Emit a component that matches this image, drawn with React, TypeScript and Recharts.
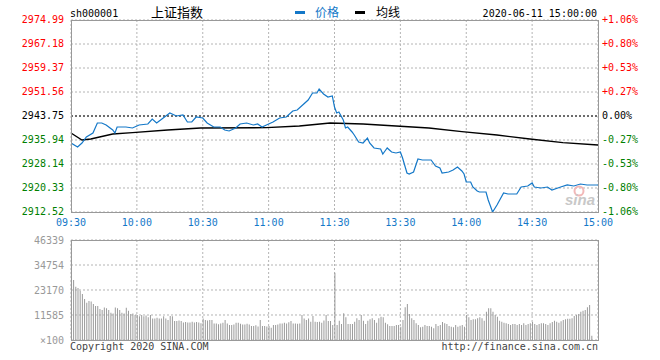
import { Bar, BarChart, CartesianGrid, Line, LineChart, ReferenceLine, XAxis, YAxis } from 'recharts';

const MONO = '"DejaVu Sans Mono", monospace';
const BLUE = '#1478c8';
const basePrice = 2943.75;

const priceTicks = [2912.52, 2920.33, 2928.14, 2935.94, 2943.75, 2951.56, 2959.37, 2967.18, 2974.99];
const pctLabels = ['-1.06%', '-0.80%', '-0.53%', '-0.27%', '0.00%', '+0.27%', '+0.53%', '+0.80%', '+1.06%'];
const timeTicks = [0, 30, 60, 90, 120, 150, 180, 210, 240];
const timeLabels = ['09:30', '10:00', '10:30', '11:00', '11:30', '13:30', '14:00', '14:30', '15:00'];
const volTicks = [0, 11585, 23170, 34754, 46339];
const volLabels = ['×100', '11585', '23170', '34754', '46339'];

// minutes since 09:30 (lunch break removed)
const priceMin = [
  0, 3, 5, 7, 10, 12, 14, 16, 19, 20, 21, 25, 28, 31, 35, 37, 39, 42, 45, 48,
  51, 53, 55, 57, 60, 62, 65, 68, 70, 72, 75, 77, 80, 83, 85, 87, 89, 92, 95, 98,
  101, 103, 106, 108, 110, 112, 113, 115, 117, 119, 120, 121, 122, 124, 125, 126, 128, 129, 131, 133,
  135, 136, 138, 141, 142, 143, 144, 146, 148, 150, 151, 153, 154, 156, 158, 160, 164, 166, 168, 169,
  172, 174, 176, 178, 179, 180, 182, 183, 185, 186, 189, 190, 192, 194, 197, 199, 203, 205, 208, 210,
  211, 214, 217, 219, 223, 226, 229, 232, 235, 240,
];
const priceVal = [
  2934.97, 2933.67, 2934.97, 2936.92, 2938.22, 2941.48, 2941.48, 2940.83, 2939.2, 2938.22,
  2940.18, 2940.18, 2939.85, 2940.83, 2941.15, 2942.78, 2941.48, 2943.1, 2944.73, 2943.76,
  2944.08, 2941.8, 2941.8, 2943.43, 2943.1, 2941.48, 2940.18, 2940.18, 2939.2, 2938.88,
  2939.85, 2941.15, 2941.48, 2940.83, 2941.15, 2940.18, 2940.83, 2941.8, 2943.1, 2943.43,
  2945.38, 2945.71, 2947.66, 2948.96, 2951.24, 2951.24, 2952.54, 2950.91, 2949.94, 2950.26,
  2946.68, 2944.73, 2945.06, 2942.45, 2939.85, 2940.18, 2938.55, 2937.57, 2935.3, 2934.97,
  2936.6, 2934.97, 2933.34, 2933.02, 2931.39, 2932.37, 2933.34, 2932.04, 2931.72, 2932.04,
  2930.09, 2925.21, 2924.88, 2925.54, 2929.76, 2929.44, 2929.44, 2927.49, 2926.84, 2925.21,
  2925.54, 2926.19, 2927.16, 2925.86, 2924.88, 2922.28, 2922.28, 2920.65, 2919.35, 2919.03,
  2919.03, 2916.43, 2912.52, 2914.8, 2918.7, 2918.38, 2918.38, 2920.65, 2920.98, 2921.96,
  2920.65, 2920.33, 2920.65, 2919.68, 2920.65, 2921.31, 2920.98, 2921.63, 2921.31, 2921.31,
];
const avgMin = [0, 5, 9, 13, 19, 28, 44, 59, 89, 104, 118, 133, 148, 163, 178, 194, 209, 224, 240];
const avgVal = [
  2938.22, 2935.95, 2936.27, 2936.92, 2937.9, 2938.32, 2939.2, 2939.85, 2939.95, 2940.5,
  2941.48, 2941.15, 2940.5, 2939.85, 2938.65, 2937.57, 2936.27, 2935.07, 2934.32,
];
// volume per minute, in units of 100
const volume = [
  46000, 27800, 24700, 24100, 22800, 21300, 19000, 17300, 18100, 17800,
  16700, 15700, 15700, 14400, 13900, 15100, 14700, 13900, 12600, 12300,
  15100, 14700, 13900, 12600, 12300, 15000, 13500, 12000, 12300, 11600,
  11600, 11000, 11600, 11000, 11300, 10500, 11600, 10000, 10000, 10300,
  10000, 10000, 11000, 10000, 9300, 11100, 11000, 8800, 8800, 9000,
  8800, 8100, 8300, 8100, 8100, 8500, 8100, 8300, 8100, 7800,
  10000, 9300, 9000, 9300, 9300, 7700, 7700, 7300, 7700, 8000,
  9300, 7700, 6900, 6900, 7200, 8000, 8000, 7500, 7200, 7200,
  7500, 7200, 6500, 6500, 6800, 6200, 9300, 6500, 6500, 6200,
  6500, 5700, 6900, 6900, 7200, 7700, 7700, 8000, 7700, 8200,
  8800, 7700, 7700, 7500, 7700, 11600, 10000, 9300, 10000, 8500,
  11100, 8500, 8300, 8500, 8000, 9000, 11600, 8800, 8800, 6950,
  31200,
  6950, 8960, 7414, 12360, 10500, 7414, 7414, 7414, 8500, 10040,
  9270, 11585, 8960, 7414, 8960, 9580, 10040, 9270, 8030, 10040,
  10810, 10500, 8030, 7300, 6490, 6490, 6490, 6950, 6950, 6180,
  9270, 15140, 16680, 12050, 10040, 9270, 7720, 6950, 5870, 6180,
  6950, 6490, 6490, 6180, 5410, 7414, 6490, 6950, 8340, 7720,
  7414, 6490, 6180, 5870, 6950, 6180, 6650, 6950, 6180, 11585,
  10500, 9270, 9580, 9580, 10040, 10500, 10040, 8960, 13130, 14680,
  14680, 13130, 11585, 10810, 8960, 8500, 8030, 7720, 7414, 6950,
  7414, 7414, 6950, 7414, 6950, 7720, 6950, 7414, 7720, 8340, 7414,
  6950, 7414, 7720, 7720, 7414, 6950, 7720, 8340, 8960, 8500,
  8030, 8650, 9270, 9580, 9890, 9890, 10040, 11120, 11585, 12050,
  13130, 13590, 13900, 15140, 16220, 2000,
  0, 0, 0,
];

const priceData = priceMin.map((m, i) => ({ m, p: priceVal[i] }));
const avgData = avgMin.map((m, i) => ({ m, p: avgVal[i] }));
const volData = volume.map((v, i) => ({ m: i, v }));

function tickColor(v: number) {
  if (v > basePrice + 0.001) return '#f00';
  if (v < basePrice - 0.001) return '#008000';
  return '#000';
}

function LeftTick({ x, y, payload }: any) {
  return (
    <text x={x} y={y} dy={3} textAnchor="end" fill={tickColor(payload.value)} fontSize={10} fontFamily={MONO}>
      {payload.value.toFixed(2)}
    </text>
  );
}

function RightTick({ x, y, payload }: any) {
  const i = priceTicks.findIndex((t) => Math.abs(t - payload.value) < 0.001);
  return (
    <text x={x} y={y} dy={3} textAnchor="start" fill={tickColor(payload.value)} fontSize={10} fontFamily={MONO}>
      {pctLabels[i]}
    </text>
  );
}

function TimeTick({ x, y, payload }: any) {
  return (
    <text x={x} y={y} dy={10} textAnchor="middle" fill={BLUE} fontSize={10} fontFamily={MONO}>
      {timeLabels[timeTicks.indexOf(payload.value)]}
    </text>
  );
}

function VolTick({ x, y, payload }: any) {
  return (
    <text x={x} y={y} dy={4} textAnchor="end" fill="#999" fontSize={10} fontFamily={MONO}>
      {volLabels[volTicks.indexOf(payload.value)]}
    </text>
  );
}

export default function App() {
  return (
    <div style={{ position: 'relative', width: 660, height: 360, background: '#fff' }}>
      <style>{'body{margin:0}'}</style>
      <div style={{ position: 'absolute', left: 0, top: 0 }}>
        <LineChart width={660} height={232} margin={{ top: 20, right: 0, bottom: 0, left: 0 }}>
          <CartesianGrid yAxisId="left" stroke="#b4b4b4" strokeDasharray="2 2" />
          <XAxis
            type="number"
            dataKey="m"
            domain={[0, 240]}
            ticks={timeTicks}
            allowDataOverflow
            axisLine={false}
            tickLine={false}
            tickSize={0}
            tickMargin={4}
            height={20}
            tick={<TimeTick />}
          />
          <YAxis
            yAxisId="left"
            type="number"
            domain={[priceTicks[0], priceTicks[priceTicks.length - 1]]}
            ticks={priceTicks}
            allowDataOverflow
            width={71}
            axisLine={false}
            tickLine={false}
            tickSize={0}
            tickMargin={7}
            tick={<LeftTick />}
          />
          <YAxis
            yAxisId="right"
            orientation="right"
            type="number"
            domain={[priceTicks[0], priceTicks[priceTicks.length - 1]]}
            ticks={priceTicks}
            allowDataOverflow
            width={62}
            axisLine={false}
            tickLine={false}
            tickSize={0}
            tickMargin={4}
            tick={<RightTick />}
          />
          <ReferenceLine yAxisId="left" y={basePrice} stroke="#000" strokeDasharray="2 2" />
          <Line
            yAxisId="left"
            data={avgData}
            dataKey="p"
            type="linear"
            stroke="#000"
            strokeWidth={1.3}
            dot={false}
            isAnimationActive={false}
          />
          <Line
            yAxisId="left"
            data={priceData}
            dataKey="p"
            type="linear"
            stroke={BLUE}
            strokeWidth={1.2}
            dot={false}
            isAnimationActive={false}
          />
        </LineChart>
      </div>
      <div style={{ position: 'absolute', left: 0, top: 230 }}>
        <BarChart width={660} height={130} data={volData} margin={{ top: 10, right: 62, bottom: 20, left: 0 }}>
          <CartesianGrid stroke="#b4b4b4" strokeDasharray="2 2" />
          <XAxis type="number" dataKey="m" domain={[0, 240]} ticks={timeTicks} hide />
          <YAxis
            type="number"
            domain={[0, volTicks[volTicks.length - 1]]}
            ticks={volTicks}
            allowDataOverflow
            width={71}
            axisLine={false}
            tickLine={false}
            tickSize={0}
            tickMargin={7}
            tick={<VolTick />}
          />
          <Bar dataKey="v" fill="#9a9a9a" barSize={1} isAnimationActive={false} />
        </BarChart>
      </div>
      <svg
        width={660}
        height={360}
        style={{ position: 'absolute', left: 0, top: 0, pointerEvents: 'none' }}
      >
        <rect x={71.5} y={20.5} width={527} height={192} fill="none" stroke="#999" />
        <rect x={71.5} y={240.5} width={527} height={100} fill="none" stroke="#999" />
        <text x={70} y={17} fontSize={10} fontFamily={MONO} fill="#000">sh000001</text>
        <text x={151} y={17} fontSize={13} fontFamily='"Noto Sans CJK SC"' fill="#000">上证指数</text>
        <rect x={295} y={11} width={10} height={3} fill={BLUE} />
        <text x={315} y={17} fontSize={12} fontFamily='"Noto Sans CJK SC"' fill={BLUE}>价格</text>
        <rect x={355} y={11} width={10} height={3} fill="#000" />
        <text x={376} y={17} fontSize={12} fontFamily='"Noto Sans CJK SC"' fill="#000">均线</text>
        <text x={597} y={17} textAnchor="end" fontSize={10} fontFamily={MONO} fill="#000">2020-06-11 15:00:00</text>
        <circle cx={579} cy={191} r={4.5} fill="none" stroke="#f2b8b8" strokeWidth={2} />
        <text x={565} y={205} fontSize={15} fontStyle="italic" fontWeight="bold" fontFamily="Arial, sans-serif" fill="#c8c8c8">sina</text>
        <text x={70} y={350} fontSize={10} fontFamily={MONO} fill="#444">Copyright 2020 SINA.COM</text>
        <text x={598} y={350} textAnchor="end" fontSize={10} fontFamily={MONO} fill="#444">http://finance.sina.com.cn</text>
      </svg>
    </div>
  );
}
